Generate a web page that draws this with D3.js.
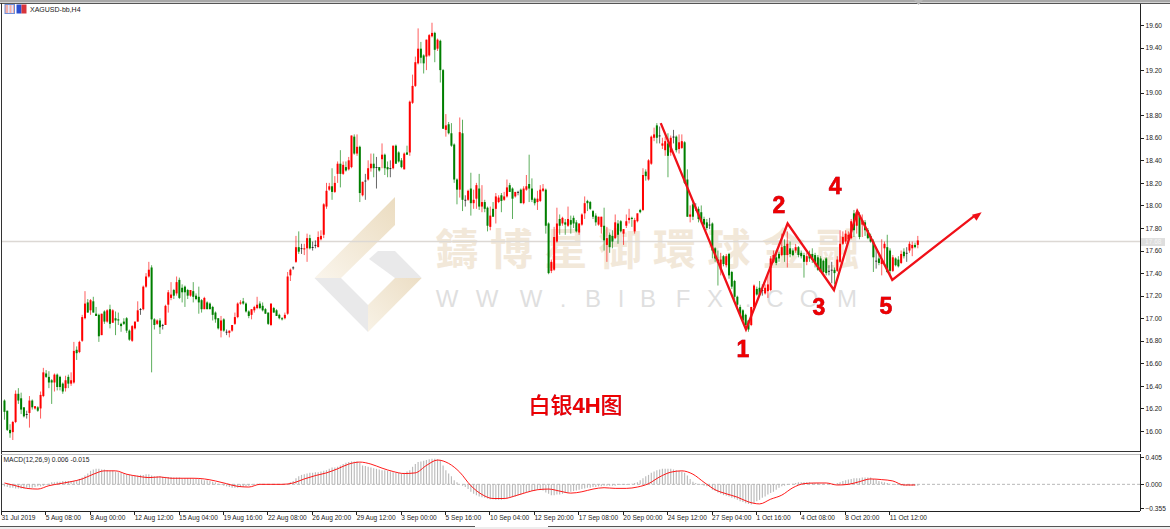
<!DOCTYPE html>
<html><head><meta charset="utf-8">
<style>html,body{margin:0;padding:0;background:#fff;overflow:hidden}svg{display:block}
.ax text{font-family:"Liberation Sans",Arial,sans-serif;font-size:6.6px;fill:#222}
.ax path,.ax line{stroke:#222;stroke-width:1;shape-rendering:crispEdges}
</style>
<script src="https://cdn.jsdelivr.net/npm/d3@7/dist/d3.min.js"></script>
</head><body><svg id="c" width="1170" height="529"></svg>
<script>
// [open, high, low, close] per 4-hour bar
const barsAug1=[[16.27,16.28,16.10,16.17],[16.18,16.18,16.00,16.01],[16.01,16.06,15.94,15.98],[15.99,16.09,15.92,16.08],[16.08,16.36,16.07,16.33],[16.33,16.38,16.24,16.27],[16.29,16.34,16.15,16.19],[16.21,16.21,16.12,16.13],[16.15,16.18,16.11,16.15],[16.16,16.31,16.03,16.27],[16.27,16.28,16.19,16.21],[16.20,16.22,16.19,16.22],[16.21,16.22,16.17,16.18],[16.20,16.35,16.11,16.32],[16.31,16.56,16.30,16.52],[16.51,16.54,16.47,16.48],[16.48,16.53,16.38,16.43],[16.45,16.46,16.24,16.43],[16.43,16.51,16.35,16.50],[16.50,16.51,16.36,16.39],[16.48,16.49,16.36,16.39],[16.42,16.43,16.33,16.35],[16.38,16.49,16.35,16.45],[16.48,16.50,16.38,16.42],[16.42,16.52,16.40,16.45],[16.43,16.79,16.42,16.71],[16.72,16.75,16.63,16.69],[16.70,16.80,16.69,16.79],[16.80,17.03,16.79,17.01],[17.00,17.24,16.99,17.13],[17.14,17.17,17.05,17.05],[17.07,17.17,17.03,17.16],[17.15,17.19,17.05,17.05],[17.04,17.10,17.02,17.02],[17.03,17.04,16.79,16.84],[16.85,17.04,16.85,17.04],[17.06,17.07,16.95,16.97],[16.97,17.08,16.96,17.07],[17.08,17.12,16.91,16.95],[16.96,17.08,16.96,17.07],[17.00,17.06,16.85,16.98],[16.99,17.05,16.94,16.98],[16.95,16.96,16.88,16.93],[16.97,17.00,16.94,16.95],[17.00,17.01,16.87,16.89],[16.89,16.90,16.80,16.81],[16.80,16.94,16.79,16.93],[16.91,16.97,16.90,16.97],[16.97,17.15,16.97,17.07],[17.08,17.09,17.03,17.08],[17.08,17.29,17.07,17.28],[17.28,17.40,17.27,17.37],[17.37,17.50,17.36,17.43]];
const barsAug2=[[17.45,17.47,16.52,16.99],[16.99,17.00,16.90,16.94],[16.95,16.99,16.94,16.98],[16.98,17.00,16.86,16.92],[16.94,16.95,16.90,16.94],[16.94,17.12,16.94,17.11],[17.12,17.25,17.05,17.23],[17.18,17.32,17.16,17.21],[17.25,17.26,17.17,17.20],[17.22,17.37,17.20,17.32],[17.34,17.36,17.17,17.18],[17.27,17.30,17.14,17.23],[17.28,17.29,17.10,17.23],[17.25,17.26,17.17,17.20],[17.20,17.25,17.19,17.25],[17.24,17.32,17.14,17.19],[17.20,17.22,17.16,17.17],[17.19,17.28,17.04,17.14],[17.16,17.17,17.05,17.08],[17.08,17.19,17.08,17.18],[17.14,17.15,17.08,17.08],[17.13,17.14,17.08,17.08],[17.10,17.11,16.98,17.03],[17.05,17.06,16.96,16.99],[17.00,17.00,16.90,16.91],[16.89,17.02,16.83,16.98],[16.99,17.00,16.88,16.89],[16.88,16.90,16.85,16.88],[16.87,16.89,16.83,16.89],[16.89,16.94,16.88,16.94],[16.95,17.05,16.94,17.01],[17.01,17.14,17.00,17.13],[17.13,17.16,17.12,17.14],[17.15,17.18,17.12,17.13],[17.13,17.14,17.05,17.06],[17.06,17.07,17.00,17.02],[17.03,17.08,16.99,17.08],[17.07,17.11,17.05,17.10],[17.09,17.19,17.08,17.12],[17.13,17.15,17.08,17.09],[17.11,17.14,17.06,17.07],[17.08,17.09,17.04,17.04],[17.05,17.05,16.94,16.95],[16.94,17.13,16.93,17.13],[17.09,17.10,17.05,17.05],[17.07,17.08,17.02,17.02],[17.03,17.04,16.99,17.00],[17.00,17.01,16.98,16.99],[17.00,17.05,16.99,17.03],[17.04,17.41,17.03,17.37],[17.38,17.44,17.33,17.43],[17.45,17.46,17.43,17.45],[17.50,17.73,17.49,17.63]];
const barsAug3=[[17.63,17.77,17.57,17.59],[17.62,17.66,17.57,17.62],[17.61,17.66,17.56,17.62],[17.62,17.75,17.50,17.71],[17.71,17.74,17.61,17.62],[17.63,17.68,17.60,17.63],[17.65,17.69,17.62,17.65],[17.63,17.77,17.63,17.72],[17.70,17.78,17.69,17.73],[17.74,18.02,17.71,18.01],[17.99,18.20,17.97,18.13],[18.14,18.20,18.13,18.17],[18.17,18.33,18.05,18.12],[18.12,18.26,18.11,18.20],[18.28,18.39,18.20,18.37],[18.37,18.49,18.16,18.28],[18.28,18.39,18.27,18.36],[18.34,18.39,18.30,18.31],[18.32,18.43,18.31,18.40],[18.34,18.62,18.33,18.62],[18.61,18.63,18.45,18.46],[18.46,18.63,18.44,18.52],[18.52,18.53,18.03,18.11],[18.09,18.21,18.08,18.21],[18.22,18.28,18.05,18.22],[18.23,18.40,18.22,18.33],[18.33,18.46,18.30,18.37],[18.37,18.46,18.25,18.33],[18.34,18.43,18.15,18.34],[18.34,18.34,18.30,18.31],[18.41,18.55,18.33,18.45],[18.45,18.46,18.27,18.33],[18.34,18.39,18.25,18.32],[18.33,18.40,18.25,18.33],[18.33,18.53,18.32,18.53],[18.53,18.54,18.37,18.37],[18.47,18.48,18.38,18.39],[18.40,18.42,18.33,18.34],[18.32,18.47,18.32,18.46],[18.47,18.53,18.45,18.45]];
const barsSep1=[[18.47,18.93,18.44,18.92],[18.91,19.16,18.90,19.06],[19.06,19.32,19.05,19.27],[19.26,19.57,19.25,19.39],[19.39,19.45,19.26,19.31],[19.33,19.34,19.17,19.26],[19.32,19.47,19.20,19.47],[19.33,19.52,19.32,19.51],[19.50,19.62,19.49,19.53],[19.53,19.54,19.27,19.38],[19.39,19.48,19.37,19.47],[19.46,19.47,19.09,19.20],[19.20,19.21,18.68,18.68],[18.67,18.81,18.61,18.71],[18.72,18.74,18.63,18.64],[18.64,18.73,18.52,18.53],[18.54,18.55,18.20,18.23],[18.23,18.24,18.01,18.14],[18.14,18.78,18.07,18.65],[18.64,18.76,17.95,18.05],[18.05,18.09,17.99,18.05],[18.05,18.14,18.04,18.13],[18.15,18.29,17.91,18.02],[18.02,18.14,17.97,18.05],[18.06,18.20,17.97,18.18],[18.15,18.28,17.96,17.99],[17.99,18.18,17.94,18.03],[18.03,18.05,17.94,17.97],[17.98,17.99,17.77,17.82],[17.81,17.99,17.78,17.91],[17.97,18.03,17.90,17.90],[17.97,18.11,17.84,18.08],[18.03,18.09,18.02,18.07],[18.09,18.11,17.94,18.04],[18.05,18.12,18.04,18.08],[18.08,18.23,18.07,18.16],[18.18,18.20,18.12,18.12],[18.15,18.16,17.88,18.06],[18.08,18.12,18.07,18.12],[18.12,18.13,18.09,18.12],[18.14,18.15,18.02,18.02],[18.02,18.17,18.01,18.15],[18.14,18.27,18.13,18.17],[18.19,18.45,18.03,18.15],[18.15,18.24,18.03,18.05],[18.06,18.07,18.00,18.02],[18.03,18.13,17.96,18.06],[18.04,18.18,18.03,18.14],[18.13,18.19,18.12,18.15],[18.14,18.15,17.75,17.82],[17.84,17.85,17.39,17.40],[17.42,17.52,17.40,17.50]];
const barsSep2=[[17.43,17.81,17.42,17.72],[17.68,17.98,17.67,17.84],[17.88,17.92,17.74,17.82],[17.84,17.90,17.82,17.89],[17.85,17.88,17.74,17.83],[17.82,17.99,17.81,17.88],[17.87,17.91,17.75,17.83],[17.89,17.91,17.80,17.84],[17.85,17.87,17.76,17.77],[17.76,17.84,17.74,17.84],[17.83,17.93,17.82,17.92],[17.93,18.08,17.88,18.02],[18.04,18.05,17.95,18.02],[18.03,18.04,17.96,17.97],[17.95,17.96,17.88,17.90],[17.91,17.93,17.82,17.85],[17.83,17.90,17.82,17.90],[17.81,17.90,17.75,17.90],[17.82,17.98,17.60,17.69],[17.65,17.81,17.50,17.71],[17.74,17.76,17.58,17.63],[17.73,17.78,17.62,17.68],[17.71,17.92,17.70,17.85],[17.84,17.87,17.66,17.74],[17.86,17.87,17.76,17.77],[17.75,17.79,17.65,17.79],[17.82,17.92,17.80,17.86],[17.87,17.97,17.84,17.89],[17.89,17.90,17.81,17.88],[17.77,17.89,17.75,17.87],[17.86,17.93,17.85,17.93],[17.96,17.97,17.93,17.94],[17.96,18.33,17.95,18.27],[18.30,18.32,18.22,18.26],[18.23,18.41,18.22,18.40],[18.37,18.62,18.36,18.61],[18.60,18.69,18.57,18.63],[18.71,18.73,18.55,18.60],[18.62,18.70,18.55,18.62],[18.53,18.60,18.50,18.55],[18.49,18.61,18.44,18.57],[18.55,18.64,18.25,18.44],[18.47,18.62,18.44,18.60],[18.61,18.67,18.55,18.61],[18.61,18.62,18.47,18.49],[18.50,18.63,18.46,18.56],[18.51,18.63,18.50,18.57],[18.56,18.57,18.19,18.20],[18.23,18.32,17.90,17.90],[17.90,18.00,17.85,17.92],[18.01,18.03,17.87,17.90],[17.98,18.02,17.95,17.98],[17.97,17.99,17.85,17.88],[17.94,18.00,17.84,17.86],[17.88,17.90,17.82,17.83],[17.85,17.88,17.78,17.80],[17.83,17.89,17.79,17.83],[17.84,17.85,17.53,17.60],[17.62,17.63,17.50,17.53],[17.52,17.60,17.29,17.49],[17.43,17.58,17.38,17.52],[17.55,17.56,17.46,17.48],[17.47,17.57,17.45,17.55]];
const barsOct=[[17.57,17.58,17.35,17.38],[17.41,17.42,17.26,17.28],[17.33,17.34,17.16,17.19],[17.19,17.20,17.08,17.12],[17.10,17.12,17.02,17.03],[17.07,17.08,16.97,16.98],[17.03,17.04,16.90,16.94],[16.98,16.98,16.88,16.90],[16.94,17.10,16.93,17.10],[17.10,17.30,17.08,17.29],[17.26,17.28,17.20,17.21],[17.27,17.33,17.20,17.21],[17.25,17.30,17.20,17.25],[17.22,17.30,17.21,17.27],[17.24,17.38,17.18,17.30],[17.25,17.55,17.24,17.53],[17.50,17.60,17.49,17.56],[17.54,17.58,17.47,17.49],[17.57,17.59,17.50,17.53],[17.56,17.75,17.55,17.63],[17.64,17.70,17.50,17.56],[17.56,17.77,17.45,17.66],[17.62,17.68,17.54,17.57],[17.60,17.62,17.55,17.56],[17.60,17.66,17.58,17.63],[17.63,17.64,17.54,17.56],[17.58,17.60,17.53,17.55],[17.56,17.58,17.36,17.50],[17.50,17.58,17.47,17.55],[17.57,17.60,17.50,17.53],[17.57,17.62,17.49,17.52],[17.56,17.58,17.45,17.49],[17.54,17.56,17.42,17.43],[17.53,17.55,17.41,17.41],[17.51,17.52,17.40,17.41],[17.53,17.54,17.38,17.40],[17.42,17.47,17.38,17.42],[17.43,17.50,17.31,17.43],[17.43,17.45,17.30,17.40],[17.42,17.55,17.41,17.52],[17.50,17.78,17.49,17.66],[17.66,17.77,17.65,17.72],[17.68,17.78,17.66,17.75],[17.70,17.77,17.69,17.74],[17.71,17.88,17.70,17.86],[17.93,17.96,17.72,17.78],[17.82,17.96,17.75,17.94],[17.91,17.94,17.70,17.72],[17.83,17.92,17.72,17.87],[17.85,17.87,17.73,17.78],[17.78,17.80,17.70,17.71],[17.73,17.75,17.67,17.68],[17.68,17.70,17.41,17.54],[17.51,17.63,17.44,17.51],[17.53,17.58,17.47,17.49],[17.48,17.70,17.38,17.52],[17.62,17.68,17.48,17.66],[17.63,17.74,17.40,17.41],[17.60,17.62,17.38,17.42],[17.42,17.56,17.41,17.54],[17.53,17.54,17.46,17.47],[17.52,17.55,17.45,17.46],[17.49,17.60,17.48,17.57],[17.59,17.62,17.53,17.55],[17.58,17.63,17.50,17.58],[17.60,17.68,17.58,17.66],[17.62,17.68,17.55,17.65],[17.65,17.67,17.62,17.63],[17.65,17.73,17.62,17.69]];
// MACD histogram, one value per bar
const macdHist=[-0.03,-0.04,-0.05,-0.05,-0.06,-0.06,-0.06,-0.06,-0.05,-0.05,-0.05,-0.04,-0.03,-0.03,-0.02,-0.01,0.01,
0.03,0.03,0.04,0.04,0.05,0.05,0.05,0.05,0.05,0.06,0.08,0.10,0.13,0.16,
0.20,0.22,0.23,0.23,0.22,0.22,0.21,0.20,0.20,0.19,0.18,0.17,0.16,
0.15,0.14,0.13,0.13,0.13,0.14,0.14,0.15,0.15,0.13,0.12,0.12,0.12,0.11,0.11,0.11,0.11,
0.10,0.10,0.10,0.09,0.09,0.09,0.09,0.09,0.08,0.08,0.07,0.06,0.06,0.05,0.04,0.03,0.01,-0.01,-0.02,-0.03,
-0.04,-0.05,-0.05,-0.05,-0.04,-0.04,-0.03,-0.02,-0.01,0.00,
0.01,0.01,0.00,0.00,0.00,0.00,0.00,0.00,0.00,0.00,0.00,0.01,0.03,0.05,
0.09,0.12,0.14,0.15,0.16,0.17,0.17,0.18,0.18,0.19,0.20,0.21,0.23,0.25,0.25,0.26,
0.28,0.30,0.32,0.33,0.34,0.34,0.34,0.32,0.28,0.27,
0.26,0.25,0.24,0.23,0.22,0.21,0.21,0.20,0.19,0.18,0.17,0.17,0.16,
0.17,0.19,0.21,0.26,0.30,0.33,0.34,0.35,0.36,0.37,0.38,0.38,0.37,0.36,
0.28,0.21,0.16,0.12,0.06,0.03,0.00,-0.02,-0.04,-0.07,-0.11,-0.14,-0.16,
-0.18,-0.19,-0.20,-0.21,-0.22,-0.22,-0.23,-0.23,-0.23,-0.22,-0.21,-0.20,-0.19,-0.18,-0.16,
-0.15,-0.13,-0.12,-0.11,-0.10,-0.09,-0.08,-0.08,-0.09,-0.12,-0.14,
-0.16,-0.16,-0.15,-0.15,-0.14,-0.13,-0.12,-0.11,-0.10,-0.09,-0.08,-0.07,-0.06,
-0.05,-0.05,-0.04,-0.04,-0.03,-0.03,-0.02,-0.02,-0.02,-0.02,-0.02,-0.01,-0.01,-0.01,-0.01,
0.00,0.01,0.02,0.03,0.06,0.09,0.12,0.14,0.17,0.19,0.21,
0.22,0.23,0.23,0.23,0.23,0.22,0.21,0.20,0.19,0.17,0.13,
0.08,0.04,0.02,0.00,-0.01,-0.02,-0.03,-0.04,
-0.08,-0.10,-0.12,-0.14,-0.16,-0.17,-0.18,-0.20,-0.21,-0.23,-0.25,-0.26,-0.28,-0.29,-0.30,
-0.28,-0.25,-0.23,-0.20,-0.18,-0.15,-0.13,-0.11,-0.08,-0.05,
-0.03,-0.02,-0.01,0.00,0.01,0.02,0.03,0.03,0.03,0.03,
0.03,0.02,0.02,0.02,0.01,0.01,0.00,0.00,0.00,0.00,
0.02,0.03,0.05,0.06,0.07,0.08,0.09,0.09,0.09,0.10,0.10,0.10,0.10,
0.08,0.07,0.05,0.04,0.03,0.02,0.01,0.00,
-0.01,-0.01,-0.02,-0.02,-0.02,-0.02,-0.02,-0.02,-0.02];
// MACD signal line, read every fourth bar
const signalEvery=4;
const macdSignal=[0.02,-0.02,-0.06,-0.07,-0.02,0.01,0.04,0.08,0.15,0.20,0.20,0.15,0.12,0.10,0.11,0.09,0.09,0.09,0.08,0.05,0.01,-0.03,-0.04,0.00,0.00,0.00,0.02,0.08,0.13,0.17,0.23,0.30,0.33,0.30,0.24,0.19,0.16,0.17,0.28,0.36,0.31,0.18,-0.02,-0.15,-0.21,-0.21,-0.17,-0.12,-0.08,-0.07,-0.10,-0.13,-0.11,-0.07,-0.05,-0.06,-0.06,-0.04,0.01,0.11,0.18,0.20,0.15,0.03,-0.08,-0.14,-0.19,-0.26,-0.29,-0.22,-0.16,-0.05,0.01,0.02,0.02,-0.01,0.00,0.04,0.08,0.07,0.05,-0.01,-0.01];
const priceTicks=[19.6,19.4,19.2,19.0,18.8,18.6,18.4,18.2,18.0,17.8,17.6,17.4,17.2,17.0,16.8,16.6,16.4,16.2,16.0];
const macdTicks=[0.405,0,-0.355];
const timeLabels=["31 Jul 2019","5 Aug 08:00","8 Aug 00:00","12 Aug 12:00","15 Aug 04:00","19 Aug 16:00","22 Aug 08:00","26 Aug 20:00","29 Aug 12:00","3 Sep 00:00","5 Sep 16:00","10 Sep 04:00","12 Sep 20:00","17 Sep 08:00","20 Sep 00:00","24 Sep 12:00","27 Sep 04:00","1 Oct 16:00","4 Oct 08:00","8 Oct 20:00","11 Oct 12:00"];
const barsPerLabel=16;
const lastPrice=17.68;
// Hand-drawn wave annotation (bar position, price)
const waveBars=[236.4,267.1,282.1,298.8,307.2,319.8,352];
const wavePrices=[18.73,16.90,17.84,17.25,17.95,17.34,17.94];
const waveLabels=["1","2","3","4","5"];
const waveLabelBars=[266,279,293.4,299.2,317.5];
const waveLabelPrices=[16.66,17.93,17.03,18.10,17.04];
const chartTitle="XAGUSD-bb,H4", macdTitle="MACD(12,26,9) 0.006 -0.015";
const captionParts=["白银","4H","图"];
const wmCn="鑄博星御環球金融".split(""), wmEn="WWW.BIBFX.COM".split("");

const bars=[...barsAug1,...barsAug2,...barsAug3,...barsSep1,...barsSep2,...barsOct];
const svg=d3.select("#c");
const defs=svg.append("defs");
const gr=defs.append("linearGradient").attr("id","tan").attr("x1","0").attr("y1","1").attr("x2","1").attr("y2","0");
gr.append("stop").attr("offset","0").attr("stop-color","#faf5ec");
gr.append("stop").attr("offset","1").attr("stop-color","#ebdcc0");
const gr2=defs.append("linearGradient").attr("id","tan2").attr("x1","0").attr("y1","1").attr("x2","1").attr("y2","0");
gr2.append("stop").attr("offset","0").attr("stop-color","#f8f2e6");
gr2.append("stop").attr("offset","1").attr("stop-color","#ecdec5");

const x=d3.scaleLinear().domain([0,329]).range([4.48,917.8]);
const y=d3.scaleLinear().domain([16,19.6]).range([431,25]);
const ym=d3.scaleLinear().domain([-0.355,0.405]).range([508.3,457]);

// window frame
svg.append("rect").attr("x",0).attr("y",0).attr("width",1170).attr("height",2.5).attr("fill","#a8a8a8");
svg.append("rect").attr("x",0).attr("y",527).attr("width",1170).attr("height",2).attr("fill","#eeeeee");

// watermark
const wm=svg.append("g");
const poly=(pts,fill)=>wm.append("polygon").attr("points",pts.map(p=>p.join(",")).join(" ")).attr("fill",fill);
poly([[395,197],[314.5,278],[341,278],[395,225]],"url(#tan)");
poly([[314.5,278],[368,332],[368,305],[341,278]],"#e9e9ea");
poly([[368,305],[368,332],[421.7,278],[395,278]],"url(#tan2)");
poly([[378,251],[395,251],[421.7,278],[395,278],[369,259]],"#e9e9ea");
wm.selectAll("text.cn").data(wmCn).join("text").attr("class","cn")
  .attr("x",(d,i)=>457+i*54.4).attr("y",265).attr("text-anchor","middle")
  .attr("font-family",'"Noto Sans CJK TC"').attr("font-weight",700).attr("font-size",43).attr("fill","#f2e8d9").text(d=>d);
const enX=[447,487,531,563,593,621,648,683,715,748,775,809,847];
wm.selectAll("text.en").data(wmEn).join("text").attr("class","en")
  .attr("x",(d,i)=>enX[i]).attr("y",307).attr("text-anchor","middle")
  .attr("font-family",'"Liberation Sans"').attr("font-size",24).attr("fill","#dfdfdf").text(d=>d);

// last-price line
svg.append("line").attr("x1",2).attr("x2",1140).attr("y1",y(lastPrice)).attr("y2",y(lastPrice)).attr("stroke","#dcd8d4").attr("stroke-width",1.6);

// candles
const col=d=>d[3]>d[0]?"#ff0000":d[3]<d[0]?"#007f00":"#111111";
const g=svg.append("g");
g.selectAll("line").data(bars).join("line")
  .attr("x1",(d,i)=>x(i)).attr("x2",(d,i)=>x(i)).attr("y1",d=>y(d[1])).attr("y2",d=>y(d[2]))
  .attr("stroke",col).attr("stroke-width",0.8).attr("stroke-opacity",0.8);
g.selectAll("rect").data(bars).join("rect")
  .attr("x",(d,i)=>x(i)-1).attr("width",2)
  .attr("y",d=>Math.min(y(d[0]),y(d[3])))
  .attr("height",d=>Math.max(0.8,Math.abs(y(d[0])-y(d[3]))))
  .attr("fill",col);

// wave polyline with arrowhead
const wavePts=waveBars.map((b,i)=>[x(b),y(wavePrices[i])]);
svg.append("path").attr("d",d3.line()(wavePts.slice(0,-1).concat([[x(349.5),y(17.91)]]))).attr("fill","none").attr("stroke","#f01018").attr("stroke-width",2.3).attr("stroke-linejoin","miter");
const tip=wavePts[wavePts.length-1], a=Math.atan2(wavePts[6][1]-wavePts[5][1],wavePts[6][0]-wavePts[5][0]);
const hd=(r,t)=>[tip[0]-r*Math.cos(a+t),tip[1]-r*Math.sin(a+t)];
svg.append("polygon").attr("points",[tip,hd(10,0.38),hd(10,-0.38)].map(p=>p.join(",")).join(" ")).attr("fill","#f01018");

svg.selectAll("text.wl").data(waveLabels).join("text").attr("class","wl")
  .attr("x",(d,i)=>x(waveLabelBars[i])).attr("y",(d,i)=>y(waveLabelPrices[i]))
  .attr("text-anchor","middle").attr("font-family",'"Liberation Sans"').attr("font-weight",700).attr("font-size",23).attr("fill","#ee0000")
  .attr("stroke","#ee0000").attr("stroke-width",0.5)
  .style("filter","drop-shadow(0.7px 0.5px 0 rgba(40,60,200,.55))").text(d=>d);

const cap=svg.append("text").attr("x",575.5).attr("y",412.5).attr("text-anchor","middle")
  .attr("font-size",22).attr("fill","#ee0000")
  .style("filter","drop-shadow(0.6px 0.4px 0 rgba(40,60,200,.5))");
cap.selectAll("tspan").data(captionParts).join("tspan")
  .attr("font-family",(d,i)=>i==1?'"Liberation Sans"':'"Noto Sans CJK SC"')
  .attr("font-weight",(d,i)=>i==1?700:500).text(d=>d);

// MACD pane
svg.append("g").selectAll("line").data(macdHist).join("line")
  .attr("x1",(d,i)=>x(i)).attr("x2",(d,i)=>x(i)).attr("y1",ym(0)).attr("y2",d=>ym(d))
  .attr("stroke","#bbbbbb").attr("stroke-width",1.15);
svg.append("line").attr("x1",2).attr("x2",1140).attr("y1",ym(0)).attr("y2",ym(0)).attr("stroke","#b0b0b0").attr("stroke-dasharray","3 2").attr("stroke-width",0.9);
const sigPts=macdSignal.map((v,i)=>[Math.min(i*signalEvery,329),v]);
svg.append("path").attr("d",d3.line().x(d=>x(d[0])).y(d=>ym(d[1])).curve(d3.curveMonotoneX)(sigPts)).attr("fill","none").attr("stroke","#ff0000").attr("stroke-width",0.9);

// axes
const ay=svg.append("g").attr("class","ax").attr("transform","translate(1140.5,0)")
  .call(d3.axisRight(y).tickValues(priceTicks).tickFormat(d3.format(".2f")).tickSize(3).tickPadding(2));
ay.select(".domain").attr("d","M0,3V452");
const am=svg.append("g").attr("class","ax").attr("transform","translate(1140.5,0)")
  .call(d3.axisRight(ym).tickValues(macdTicks).tickFormat(d3.format(".3f")).tickSize(3).tickPadding(2));
am.select(".domain").attr("d","M0,454V511");
const tx=d=>x(d*barsPerLabel-1)-0.8;
const at=svg.append("g").attr("class","ax").attr("transform","translate(0,511.5)")
  .call(d3.axisBottom(d3.scaleLinear().domain([0,20]).range([tx(0),tx(20)])).tickValues(d3.range(timeLabels.length)).tickFormat(i=>timeLabels[i]).tickSize(3).tickPadding(1));
at.select(".domain").attr("d","M1,0H1140");
at.selectAll("text").attr("text-anchor","start").attr("dy","0.71em");
at.selectAll(".tick text").attr("x",0);

// last-price tag
svg.append("rect").attr("x",1141).attr("y",y(lastPrice)-3.5).attr("width",24).attr("height",8).attr("fill","#dedede");
svg.append("text").attr("x",1145).attr("y",y(lastPrice)+2.8).attr("font-family",'"Liberation Sans"').attr("font-size",6.6).attr("fill","#f4f4f4").text(d3.format(".2f")(lastPrice));

// frame lines
const rule=(x1,y1,x2,y2,c)=>svg.append("line").attr("x1",x1).attr("y1",y1).attr("x2",x2).attr("y2",y2).attr("stroke",c).attr("stroke-width",1).attr("shape-rendering","crispEdges");
rule(0,3,1170,3,"#555");
rule(1.5,3,1.5,511,"#333");
rule(1,451.5,1140,451.5,"#333");
rule(1,454,1140,454,"#bdbdbd");
rule(0,526.5,475,526.5,"#555");
rule(548,526.5,1170,526.5,"#555");

// top-left icons and titles
const ic=svg.append("g");
ic.append("rect").attr("x",5).attr("y",4.5).attr("width",9.5).attr("height",9).attr("fill","#f4b0a8").attr("stroke","#6f8fd8").attr("stroke-width",1);
ic.append("rect").attr("x",8).attr("y",5).attr("width",1.5).attr("height",8).attr("fill","#dfe8ff");
ic.append("rect").attr("x",11.5).attr("y",5).attr("width",1.5).attr("height",8).attr("fill","#dfe8ff");
ic.append("rect").attr("x",16.5).attr("y",4.5).attr("width",5).attr("height",9).attr("fill","#2a4fd0");
ic.append("rect").attr("x",21.5).attr("y",4.5).attr("width",5).attr("height",9).attr("fill","#d8343c");
svg.append("text").attr("x",30).attr("y",12).attr("font-family",'"Liberation Sans"').attr("font-size",7).attr("fill","#222").text(chartTitle);
svg.append("text").attr("x",3.5).attr("y",462).attr("font-family",'"Liberation Sans"').attr("font-size",6.7).attr("fill","#222").text(macdTitle);
svg.append("polygon").attr("points",[[914,0],[923,0],[918.5,5]].map(p=>p.join(",")).join(" ")).attr("fill","#b8b8b8");
</script></body></html>
